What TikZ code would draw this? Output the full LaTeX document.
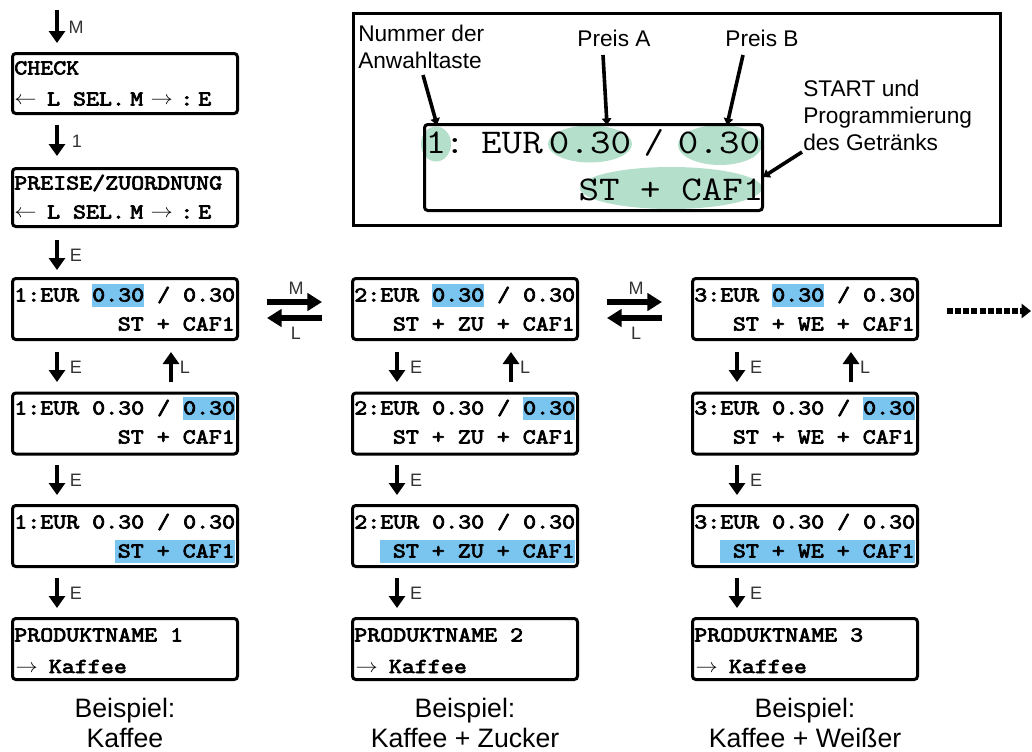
\documentclass[tikz,border=0pt]{standalone}
\usepackage{fontspec}
\usepackage{graphicx}
\usetikzlibrary{arrows.meta,shapes.geometric}
\newfontfamily\arial{Liberation Sans}
\newfontfamily\lcdfont{lmmono10-regular.otf}[FakeBold=3]
\definecolor{hlblue}{RGB}{122,196,240}
\definecolor{hlgreen}{RGB}{180,224,203}
% display text: heavy typewriter, widened to the cell pitch of the displays
\newcommand\lcd[1]{\scalebox{1.16}[1]{\lcdfont\fontsize{16}{16}\selectfont #1}}
\newcommand\lcdbig[1]{\scalebox{1.15}[1]{\ttfamily\fontsize{26}{26}\selectfont #1}}
\newcommand\hlb[1]{{\setlength\fboxsep{0pt}\colorbox{hlblue}{\rule[-4pt]{0pt}{17.5pt}#1}}}
\newcommand\sk{\hphantom{0}}
\newcommand\lar{\raisebox{.6pt}{\fontsize{15}{15}\selectfont$\leftarrow$}}
\newcommand\rar{\raisebox{.6pt}{\fontsize{15}{15}\selectfont$\rightarrow$}}
\newcommand\nar{\raisebox{.6pt}{\fontsize{14.5}{14.5}\selectfont$\rightarrow$}}
\newcommand\selline{\lar\kern-.1em\ L SEL.\kern.21em M\kern.3em\rar\kern.3em:\kern.2em E}
\newcommand\kaffee{\kern.05em\nar\kern.45em Kaffee}
\begin{document}
\begin{tikzpicture}[x=0.75pt,y=-0.75pt,
  lcdbox/.style={draw, line width=2.25pt, rounded corners=2.5pt, inner sep=0pt,
                 minimum width=168.75pt, minimum height=45.75pt},
  txt/.style={inner sep=0pt},
  frame/.style={draw, line width=2.25pt, inner sep=0pt, minimum width=485.25pt, minimum height=159pt},
  bigbox/.style={draw, line width=2.25pt, rounded corners=2.5pt, inner sep=0pt,
                 minimum width=253.5pt, minimum height=64.5pt},
  ell/.style={ellipse, fill=hlgreen, inner sep=0pt},
  big/.style={inner sep=0pt, anchor=base},
  lab/.style={inner sep=0pt, font=\arial\fontsize{17}{20}\selectfont},
  key/.style={inner sep=0pt, anchor=base, text=black!80, font=\arial\fontsize{13.5}{14}\selectfont},
  captxt/.style={inner sep=0pt, anchor=base, font=\arial\fontsize{20}{22}\selectfont},
  vdn/.style={line width=3.3pt, -{Triangle[width=12pt,length=9pt]}},
  hrz/.style={line width=4.3pt, -{Triangle[width=13pt,length=11pt]}},
  pnt/.style={line width=2.7pt, -{Triangle[width=7pt,length=5pt]}},
  dsh/.style={line width=3.8pt, dash pattern=on 4.5pt off 1.6pt, -{Triangle[width=10.5pt,length=7pt]}}]
\useasboundingbox (0,0) rectangle (1032,751);

% ---------- explanation panel ----------
\node[frame] (panel) at (677,119.5) {};
\node[ell, minimum width=22.5pt, minimum height=26.25pt] (e1) at (436,144) {};
\node[ell, minimum width=63pt, minimum height=27.75pt] (eA) at (590,144) {};
\node[ell, minimum width=63pt, minimum height=30pt] (eB) at (720,145) {};
\node[ell, minimum width=136.5pt, minimum height=31.5pt] (eS) at (671,188) {};
\node[bigbox] (lcd) at (593.5,167.5) {};
\node[big] (t1) at (436,153.5) {\lcdbig{1}};
\node[big] (tc) at (455,153.5) {\lcdbig{:}};
\node[big] (teur) at (512,153.5) {\lcdbig{EUR}};
\node[big] (tA) at (590,153.5) {\lcdbig{0.30}};
\node[big] (tsl) at (654,153.5) {\lcdbig{/}};
\node[big] (tB) at (719,153.5) {\lcdbig{0.30}};
\node[big] (tst) at (671,200.5) {\lcdbig{ST + CAF1}};

\node[lab, anchor=base west] (lnum1) at (358,41) {Nummer der};
\node[lab, anchor=base west] (lnum2) at (358,68) {Anwahltaste};
\node[lab, anchor=base] (lpa) at (614,46) {Preis A};
\node[lab, anchor=base] (lpb) at (762,46) {Preis B};
\node[lab, anchor=base west] (ls1) at (803,96) {START und};
\node[lab, anchor=base west] (ls2) at (803,123) {Programmierung};
\node[lab, anchor=base west] (ls3) at (803,150) {des Getränks};

\coordinate (p1s) at (423,75);  \coordinate (p1e) at (437,125);
\coordinate (pAs) at (603,55);  \coordinate (pAe) at (607,125);
\coordinate (pBs) at (743,55);  \coordinate (pBe) at (727,125);
\coordinate (pSs) at (802,152); \coordinate (pSe) at (763,177);
\draw[pnt] (p1s) -- (p1e);
\draw[pnt] (pAs) -- (pAe);
\draw[pnt] (pBs) -- (pBe);
\draw[pnt] (pSs) -- (pSe);

% ---------- service menu entry ----------
\coordinate (mA) at (57,10);  \coordinate (mB) at (57,43);
\draw[vdn] (mA) -- (mB);
\node[key] (kM) at (76,33.5) {M};
\node[lcdbox, minimum height=45pt] (check) at (125,83.5) {};
\node[txt, anchor=base west] (check1) at (14,74.5) {\lcd{CHECK}};
\node[txt, anchor=base west] (check2) at (14,105.5) {\lcd{\selline}};
\coordinate (oA) at (57,125); \coordinate (oB) at (57,156);
\draw[vdn] (oA) -- (oB);
\node[key] (k1) at (77,147) {1};
\node[lcdbox, minimum height=43.5pt] (preise) at (125,197.5) {};
\node[txt, anchor=base west] (preise1) at (14,189.5) {\lcd{PREISE/ZUORDNUNG}};
\node[txt, anchor=base west] (preise2) at (14,218.5) {\lcd{\selline}};
\coordinate (eA0) at (57,240); \coordinate (eB0) at (57,270);
\draw[vdn] (eA0) -- (eB0);
\node[key] (kE0) at (76,261) {E};

% ---------- display boxes, three columns ----------
\foreach \o/\k in {0/a,340/b,680/c}{
  \node[lcdbox] (r1\k) at (125+\o,309) {};
  \node[lcdbox] (r2\k) at (125+\o,423.5) {};
  \node[lcdbox] (r3\k) at (125+\o,536) {};
  \node[lcdbox] (r4\k) at (125+\o,649) {};
  % E / L between first and second box
  \coordinate (d1s\k) at (57+\o,352); \coordinate (d1e\k) at (57+\o,382);
  \coordinate (u1s\k) at (171+\o,382); \coordinate (u1e\k) at (171+\o,352);
  \draw[vdn] (d1s\k) -- (d1e\k);
  \draw[vdn] (u1s\k) -- (u1e\k);
  \node[key] (kE1\k) at (76+\o,373) {E};
  \node[key] (kL1\k) at (185+\o,373) {L};
  % E between second and third box
  \coordinate (d2s\k) at (57+\o,465); \coordinate (d2e\k) at (57+\o,495);
  \draw[vdn] (d2s\k) -- (d2e\k);
  \node[key] (kE2\k) at (76+\o,486) {E};
  % E between third and fourth box
  \coordinate (d3s\k) at (57+\o,578); \coordinate (d3e\k) at (57+\o,608);
  \draw[vdn] (d3s\k) -- (d3e\k);
  \node[key] (kE3\k) at (76+\o,599) {E};
}

% column 1
\node[txt, anchor=base west] (a11) at (14,301.5) {\lcd{1:EUR \hlb{0.30} / 0.30}};
\node[txt, anchor=base east] (a12) at (235,330.5) {\lcd{ST + CAF1}};
\node[txt, anchor=base west] (a21) at (14,414.5) {\lcd{1:EUR 0.30 / \hlb{0.30}}};
\node[txt, anchor=base east] (a22) at (235,443.5) {\lcd{ST + CAF1}};
\node[txt, anchor=base west] (a31) at (14,528.5) {\lcd{1:EUR 0.30 / 0.30}};
\node[txt, anchor=base east] (a32) at (235,557.5) {\lcd{\hlb{\kern2pt ST + CAF1}}};
\node[txt, anchor=base west] (a41) at (14,641.5) {\lcd{PRODUKTNAME 1}};
\node[txt, anchor=base west] (a42) at (14,673) {\lcd{\kaffee}};

% column 2
\node[txt, anchor=base west] (b11) at (354,301.5) {\lcd{2:EUR \hlb{0.30} / 0.30}};
\node[txt, anchor=base east] (b12) at (575,330.5) {\lcd{ST + ZU + CAF1}};
\node[txt, anchor=base west] (b21) at (354,414.5) {\lcd{2:EUR 0.30 / \hlb{0.30}}};
\node[txt, anchor=base east] (b22) at (575,443.5) {\lcd{ST + ZU + CAF1}};
\node[txt, anchor=base west] (b31) at (354,528.5) {\lcd{2:EUR 0.30 / 0.30}};
\node[txt, anchor=base east] (b32) at (575,557.5) {\lcd{\hlb{\sk ST + ZU + CAF1}}};
\node[txt, anchor=base west] (b41) at (354,641.5) {\lcd{PRODUKTNAME 2}};
\node[txt, anchor=base west] (b42) at (354,673) {\lcd{\kaffee}};

% column 3
\node[txt, anchor=base west] (c11) at (694,301.5) {\lcd{3:EUR \hlb{0.30} / 0.30}};
\node[txt, anchor=base east] (c12) at (915,330.5) {\lcd{ST + WE + CAF1}};
\node[txt, anchor=base west] (c21) at (694,414.5) {\lcd{3:EUR 0.30 / \hlb{0.30}}};
\node[txt, anchor=base east] (c22) at (915,443.5) {\lcd{ST + WE + CAF1}};
\node[txt, anchor=base west] (c31) at (694,528.5) {\lcd{3:EUR 0.30 / 0.30}};
\node[txt, anchor=base east] (c32) at (915,557.5) {\lcd{\hlb{\sk ST + WE + CAF1}}};
\node[txt, anchor=base west] (c41) at (694,641.5) {\lcd{PRODUKTNAME 3}};
\node[txt, anchor=base west] (c42) at (694,673) {\lcd{\kaffee}};

% ---------- M / L between columns ----------
\foreach \o/\k in {0/a,340/b}{
  \coordinate (hMs\k) at (267+\o,302); \coordinate (hMe\k) at (322+\o,302);
  \coordinate (hLs\k) at (322+\o,318); \coordinate (hLe\k) at (267+\o,318);
  \draw[hrz] (hMs\k) -- (hMe\k);
  \draw[hrz] (hLs\k) -- (hLe\k);
  \node[key] (kHM\k) at (296+\o,294.5) {M};
  \node[key] (kHL\k) at (296+\o,339.5) {L};
}
\coordinate (more1) at (947,311); \coordinate (more2) at (1031,311);
\draw[dsh] (more1) -- (more2);

% ---------- captions ----------
\node[captxt] (cap1a) at (125,717) {Beispiel:};
\node[captxt] (cap1b) at (125,747) {Kaffee};
\node[captxt] (cap2a) at (465,717) {Beispiel:};
\node[captxt] (cap2b) at (465,747) {Kaffee + Zucker};
\node[captxt] (cap3a) at (805,717) {Beispiel:};
\node[captxt] (cap3b) at (805,747) {Kaffee + Weißer};
\end{tikzpicture}
\end{document}
